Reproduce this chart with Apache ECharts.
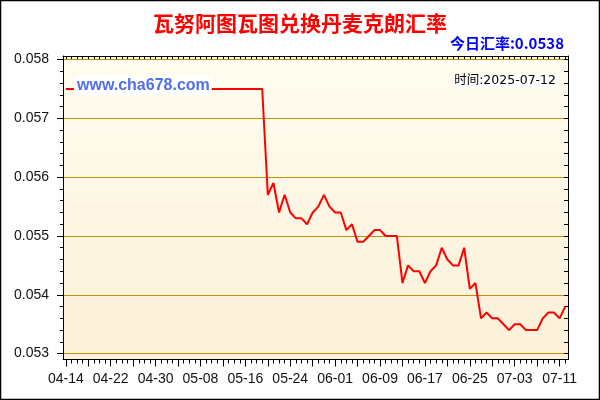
<!DOCTYPE html>
<html>
<head>
<meta charset="utf-8">
<script src="https://cdn.jsdelivr.net/npm/echarts@6/dist/echarts.min.js"></script>
<style>
html,body{margin:0;padding:0;background:#fff;}
#chart{width:600px;height:400px;}
</style>
</head>
<body>
<div id="chart"></div>
<script>
// ---- data ----
var titleText = '瓦努阿图瓦图兑换丹麦克朗汇率';
var todayText = '今日汇率:0.0538';
var timeText = '时间:2025-07-12';
var watermarkText = 'www.cha678.com';

var dates = [
  '04-14','04-15','04-16','04-17','04-18','04-19','04-20','04-21','04-22','04-23',
  '04-24','04-25','04-26','04-27','04-28','04-29','04-30','05-01','05-02','05-03',
  '05-04','05-05','05-06','05-07','05-08','05-09','05-10','05-11','05-12','05-13',
  '05-14','05-15','05-16','05-17','05-18','05-19','05-20','05-21','05-22','05-23',
  '05-24','05-25','05-26','05-27','05-28','05-29','05-30','05-31','06-01','06-02',
  '06-03','06-04','06-05','06-06','06-07','06-08','06-09','06-10','06-11','06-12',
  '06-13','06-14','06-15','06-16','06-17','06-18','06-19','06-20','06-21','06-22',
  '06-23','06-24','06-25','06-26','06-27','06-28','06-29','06-30','07-01','07-02',
  '07-03','07-04','07-05','07-06','07-07','07-08','07-09','07-10','07-11','07-12'
];

var rates = [
  0.0575,0.0575,0.0575,0.0575,0.0575,0.0575,0.0575,0.0575,0.0575,0.0575,
  0.0575,0.0575,0.0575,0.0575,0.0575,0.0575,0.0575,0.0575,0.0575,0.0575,
  0.0575,0.0575,0.0575,0.0575,0.0575,0.0575,0.0575,0.0575,0.0575,0.0575,
  0.0575,0.0575,0.0575,0.0575,0.0575,0.0575,0.0557,0.0559,0.0554,0.0557,
  0.0554,0.0553,0.0553,0.0552,0.0554,0.0555,0.0557,0.0555,0.0554,0.0554,
  0.0551,0.0552,0.0549,0.0549,0.0550,0.0551,0.0551,0.0550,0.0550,0.0550,
  0.0542,0.0545,0.0544,0.0544,0.0542,0.0544,0.0545,0.0548,0.0546,0.0545,
  0.0545,0.0548,0.0541,0.0542,0.0536,0.0537,0.0536,0.0536,0.0535,0.0534,
  0.0535,0.0535,0.0534,0.0534,0.0534,0.0536,0.0537,0.0537,0.0536,0.0538
];

var yMajorTicks = [0.053, 0.054, 0.055, 0.056, 0.057, 0.058];
var yMinorTicks = [
  0.0532,0.0534,0.0536,0.0538,
  0.0542,0.0544,0.0546,0.0548,
  0.0552,0.0554,0.0556,0.0558,
  0.0562,0.0564,0.0566,0.0568,
  0.0572,0.0574,0.0576,0.0578
];
var yAllTicks = yMajorTicks.concat(yMinorTicks);
var yMin = 0.0529, yMax = 0.05806;

// ---- chart ----
var chart = echarts.init(document.getElementById('chart'), null, {renderer: 'canvas'});
var latin = "'Liberation Sans', Arial, 'Noto Sans CJK SC', sans-serif";
var cjk = "'Noto Sans CJK SC', 'Liberation Sans', sans-serif";
var gold = '#c09100';

var option = {
  animation: false,
  backgroundColor: '#ffffff',
  grid: {
    left: 63, right: 32, top: 56, bottom: 40.5,
    show: true,
    borderWidth: 0,
    outerBoundsMode: 'none',
    backgroundColor: new echarts.graphic.LinearGradient(0, 0, 0, 1, [
      {offset: 0, color: '#fffdf0'},
      {offset: 1, color: '#fcf0d8'}
    ])
  },
  xAxis: [
    {
      type: 'category', data: dates, position: 'bottom', boundaryGap: true,
      axisLine: {show: true, lineStyle: {color: '#000', width: 1}},
      axisTick: {show: true, interval: 0, alignWithLabel: true, length: 4, lineStyle: {color: '#000'}},
      axisLabel: {interval: 7, margin: 13, fontSize: 14, color: '#111', fontFamily: latin},
      splitLine: {show: false}
    },
    {
      type: 'category', data: dates, position: 'bottom', boundaryGap: true,
      axisLine: {show: false},
      axisTick: {show: true, interval: 3, alignWithLabel: true, length: 7, lineStyle: {color: '#000'}},
      axisLabel: {show: false},
      splitLine: {show: false}
    },
    {
      type: 'category', data: dates, position: 'top', boundaryGap: true,
      axisLine: {show: true, lineStyle: {color: '#000', width: 1}},
      axisTick: {show: true, inside: true, interval: 0, alignWithLabel: true, length: 3, lineStyle: {color: '#000'}},
      axisLabel: {show: false},
      splitLine: {show: false}
    }
  ],
  yAxis: [
    {
      type: 'value', position: 'left', min: yMin, max: yMax,
      axisLine: {show: true, lineStyle: {color: '#000', width: 1}},
      axisTick: {show: true, length: 6, customValues: yMajorTicks, lineStyle: {color: '#000'}},
      axisLabel: {
        show: true, customValues: yMajorTicks, margin: 14, fontSize: 14, color: '#111', fontFamily: latin,
        formatter: function (v) { return v.toFixed(3); }
      },
      splitLine: {show: true, lineStyle: {color: gold, width: 1}}
    },
    {
      type: 'value', position: 'left', min: yMin, max: yMax,
      axisLine: {show: false},
      axisTick: {show: true, length: 3, customValues: yMinorTicks, lineStyle: {color: '#000'}},
      axisLabel: {show: false},
      splitLine: {show: false}
    },
    {
      type: 'value', position: 'right', min: yMin, max: yMax,
      axisLine: {show: true, lineStyle: {color: '#000', width: 1}},
      axisTick: {show: true, inside: true, length: 4, customValues: yAllTicks, lineStyle: {color: '#000'}},
      axisLabel: {show: false},
      splitLine: {show: false}
    }
  ],
  series: [
    {
      type: 'line', xAxisIndex: 0, yAxisIndex: 0,
      data: rates,
      showSymbol: false, symbol: 'none',
      lineStyle: {color: '#ff0000', width: 2},
      z: 5
    }
  ],
  graphic: [
    {
      type: 'rect', z: 200, silent: true,
      shape: {x: 0.5, y: 0.5, width: 599, height: 399},
      style: {fill: null, stroke: '#000', lineWidth: 1.5}
    },
    {
      type: 'text', z: 200, x: 300, y: 23,
      style: {text: titleText, fill: '#ff0000', font: 'bold 21px ' + cjk, textAlign: 'center', textVerticalAlign: 'middle'}
    },
    {
      type: 'text', z: 200, x: 564, y: 43,
      style: {text: todayText, fill: '#0000ff', font: 'bold 15px ' + cjk, textAlign: 'right', textVerticalAlign: 'middle'}
    },
    {
      type: 'text', z: 200, x: 557, y: 81,
      style: {text: timeText, fill: '#000', font: "12.5px 'DejaVu Sans', 'Noto Sans CJK SC', sans-serif", textAlign: 'right', textVerticalAlign: 'middle',
              backgroundColor: '#ffffff', padding: [1, 1]}
    },
    {
      type: 'text', z: 200, x: 74, y: 86,
      style: {text: watermarkText, fill: '#5070e6', font: 'bold 16px ' + latin, textAlign: 'left', textVerticalAlign: 'middle',
              backgroundColor: '#ffffff', padding: [2, 2, 1, 3]}
    }
  ]
};
chart.setOption(option);
</script>
</body>
</html>
